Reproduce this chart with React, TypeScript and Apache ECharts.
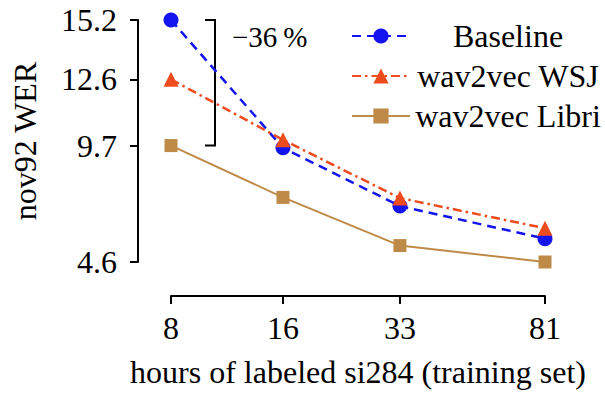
import React, { useEffect, useRef } from "react";
import * as echarts from "echarts";

const hours = [8, 16, 33, 81];
const yTicks = [4.6, 9.7, 12.6, 15.2];
const seriesNames = ["Baseline", "wav2vec WSJ", "wav2vec Libri"];
const baseline = [15.2, 9.6, 7.05, 5.62];
const wsj = [12.6, 9.95, 7.4, 6.08];
const libri = [9.7, 7.43, 5.32, 4.6];
const annotation = "−36\u2009%";

const FONT = "'Liberation Serif', 'Times New Roman', serif";
const BLUE = "#1414EE";
const RED = "#EE4B1E";
const TAN = "#BE8A48";

export default function App() {
  const ref = useRef<HTMLDivElement>(null);
  useEffect(() => {
    if (!ref.current) return;
    const chart = echarts.init(ref.current, undefined, { renderer: "svg" });
    const pair = (vals: number[]) => hours.map((h, i) => [h, vals[i]]);
    chart.setOption({
      animation: false,
      backgroundColor: "#ffffff",
      textStyle: { fontFamily: FONT, color: "#000" },
      grid: { left: 171, right: 60, top: 20, bottom: 130 },
      legend: {
        orient: "vertical",
        left: 346,
        top: 15,
        itemWidth: 58,
        itemHeight: 19,
        itemGap: 8,
        data: seriesNames,
        formatter: (name: string) => `{a|${name}}`,
        textStyle: {
          fontFamily: FONT,
          fontSize: 32,
          color: "#000",
          rich: { a: { width: 186, align: "center", fontFamily: FONT, fontSize: 32, color: "#000" } },
        },
      },
      xAxis: {
        type: "log",
        logBase: 2,
        min: 8,
        max: 81,
        offset: 34,
        name: "hours of labeled si284 (training set)",
        nameLocation: "middle",
        nameGap: 60,
        nameTextStyle: { fontFamily: FONT, fontSize: 32, color: "#000" },
        axisLine: { show: true, lineStyle: { color: "#000", width: 2 } },
        axisTick: { show: true, length: 8, inside: false, lineStyle: { color: "#000", width: 2 }, customValues: hours },
        axisLabel: { margin: 16, fontFamily: FONT, fontSize: 32, color: "#000", customValues: hours, formatter: (v: number) => String(Math.round(v)) },
        splitLine: { show: false },
        minorTick: { show: false },
        minorSplitLine: { show: false },
      },
      yAxis: {
        type: "value",
        min: 4.6,
        max: 15.2,
        offset: 33,
        name: "nov92 WER",
        nameLocation: "middle",
        nameGap: 97,
        nameTextStyle: { fontFamily: FONT, fontSize: 32, color: "#000" },
        axisLine: { show: true, lineStyle: { color: "#000", width: 2 } },
        axisTick: { show: true, length: 8, inside: false, lineStyle: { color: "#000", width: 2 }, customValues: yTicks },
        axisLabel: { margin: 21, fontFamily: FONT, fontSize: 32, color: "#000", customValues: yTicks, formatter: (v: number) => v.toFixed(1) },
        splitLine: { show: false },
      },
      series: [
        {
          name: seriesNames[0],
          type: "line",
          data: pair(baseline),
          clip: false,
          symbol: "circle",
          symbolSize: 15,
          itemStyle: { color: BLUE },
          lineStyle: { color: BLUE, width: 2.5, type: [9, 6] },
        },
        {
          name: seriesNames[1],
          type: "line",
          data: pair(wsj),
          clip: false,
          symbol: "triangle",
          symbolSize: 15,
          itemStyle: { color: RED },
          lineStyle: { color: RED, width: 2.5, type: [9, 4, 2.5, 4] },
        },
        {
          name: seriesNames[2],
          type: "line",
          data: pair(libri),
          clip: false,
          symbol: "rect",
          symbolSize: 13,
          itemStyle: { color: TAN },
          lineStyle: { color: TAN, width: 2 },
        },
      ],
    });

    const x0 = chart.convertToPixel({ xAxisIndex: 0 }, hours[0]) as number;
    const yTop = chart.convertToPixel({ yAxisIndex: 0 }, baseline[0]) as number;
    const yBot = chart.convertToPixel({ yAxisIndex: 0 }, libri[0]) as number;
    const bx = x0 + 44;
    chart.setOption({
      graphic: [
        {
          type: "polyline",
          shape: { points: [[bx - 10, yTop], [bx, yTop], [bx, yBot], [bx - 10, yBot]] },
          style: { stroke: "#000", lineWidth: 2, fill: "none" },
        },
        {
          type: "text",
          x: bx + 17,
          y: yTop + 17,
          style: { text: annotation, fontFamily: FONT, fontSize: 29, fill: "#000", verticalAlign: "middle", align: "left" },
        },
      ],
    });
    return () => chart.dispose();
  }, []);
  return <div ref={ref} style={{ position: "absolute", left: 0, top: 0, width: 605, height: 393 }} />;
}
